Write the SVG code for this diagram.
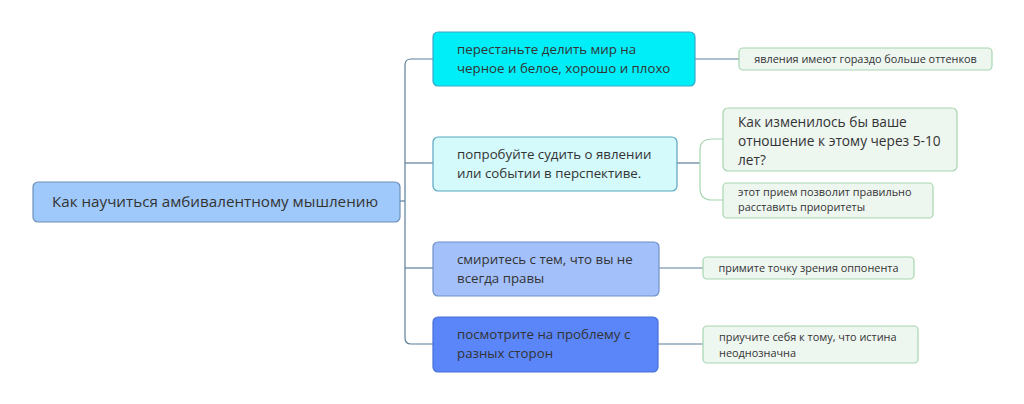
<svg xmlns="http://www.w3.org/2000/svg" width="1024" height="404" viewBox="0 0 1024 404">
<style>
.t{font-family:"Open Sans","Noto Sans","DejaVu Sans",sans-serif;fill:#333;}
.m{font-size:13.3px;}
.s{font-size:10.9px;}
.b{stroke-width:1.2;}
.leaf{fill:#eef6f0;stroke:#a6d6b0;stroke-width:1.2;}
.c{fill:none;stroke:#5b7f9a;stroke-width:1.2;}
.cg{fill:none;stroke:#a6d6b0;stroke-width:1.2;}
</style>
<rect width="1024" height="404" fill="#ffffff"/>
<g id="connectors">
<path class="c" d="M400,201 H405"/>
<path class="c" d="M433,59 H411 Q405,59 405,65 V338 Q405,344 411,344 H433"/>
<path class="c" d="M405,163 H433"/>
<path class="c" d="M405,268 H433"/>
<path class="c" d="M695,59 H739"/>
<path class="c" d="M677,163 H700"/>
<path class="cg" d="M700,163 V150 Q700,139 712,139 H723"/>
<path class="cg" d="M700,163 V188 Q700,200 712,200 H723"/>
<path class="c" d="M659,268 H703"/>
<path class="c" d="M658,344 H703"/>
</g>
<g id="root">
<rect x="33" y="182" width="367" height="40" rx="5" fill="#9fc9fa" stroke="#6f8fb8" class="b"/>
<text class="t" x="52" y="207" font-size="15.2">Как научиться амбивалентному мышлению</text>
</g>
<g id="n1">
<rect x="433" y="32" width="262" height="54" rx="5" fill="#00eef8" stroke="#3aa8c8" class="b"/>
<text class="t m" x="457" y="54">перестаньте делить мир на</text>
<text class="t m" x="457" y="73">черное и белое, хорошо и плохо</text>
</g>
<g id="n2">
<rect x="433" y="137" width="244" height="54" rx="5" fill="#d4fafc" stroke="#5aa5c0" class="b"/>
<text class="t m" x="457" y="159">попробуйте судить о явлении</text>
<text class="t m" x="457" y="178">или событии в перспективе.</text>
</g>
<g id="n3">
<rect x="433" y="242" width="226" height="54" rx="5" fill="#a3c0fa" stroke="#6f90c8" class="b"/>
<text class="t m" x="457" y="264">смиритесь с тем, что вы не</text>
<text class="t m" x="457" y="283">всегда правы</text>
</g>
<g id="n4">
<rect x="433" y="317" width="225" height="55" rx="5" fill="#5b86fa" stroke="#4a70d8" class="b"/>
<text class="t m" x="457" y="339">посмотрите на проблему с</text>
<text class="t m" x="457" y="358">разных сторон</text>
</g>
<g id="l1">
<rect class="leaf" x="739" y="48" width="253" height="22" rx="4"/>
<text class="t s" x="865.5" y="63" text-anchor="middle">явления имеют гораздо больше оттенков</text>
</g>
<g id="l2a">
<rect class="leaf" x="723" y="108" width="234" height="63" rx="5"/>
<text class="t" font-size="13.7px" x="738" y="127">Как изменилось бы ваше</text>
<text class="t" font-size="13.7px" x="738" y="146">отношение к этому через 5-10</text>
<text class="t" font-size="13.7px" x="738" y="165">лет?</text>
</g>
<g id="l2b">
<rect class="leaf" x="723" y="183" width="210" height="35" rx="4"/>
<text class="t s" x="738" y="196">этот прием позволит правильно</text>
<text class="t s" x="738" y="211">расставить приоритеты</text>
</g>
<g id="l3">
<rect class="leaf" x="703" y="257" width="211" height="22" rx="4"/>
<text class="t s" x="808.5" y="272" text-anchor="middle">примите точку зрения оппонента</text>
</g>
<g id="l4">
<rect class="leaf" x="703" y="326" width="215" height="37" rx="4"/>
<text class="t s" x="719" y="341">приучите себя к тому, что истина</text>
<text class="t s" x="719" y="357">неоднозначна</text>
</g>
</svg>
